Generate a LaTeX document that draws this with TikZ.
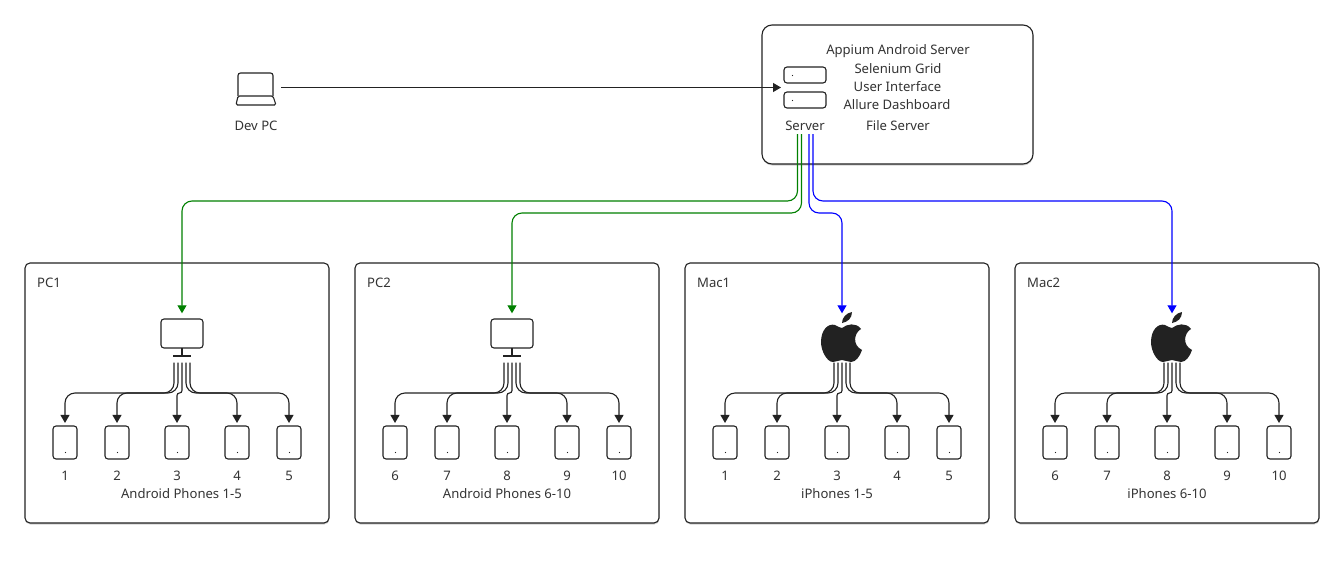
\documentclass[tikz,border=0pt]{standalone}
\usepackage{fontspec}
\setmainfont{Noto Sans}
\usetikzlibrary{arrows.meta,shadows}
\definecolor{ink}{HTML}{222222}
\definecolor{txt}{HTML}{333333}
\definecolor{gr}{HTML}{008000}
\definecolor{bl}{HTML}{0000FF}
\tikzset{
  x=1pt,y=-1pt,
  lbl/.style={font=\fontsize{13.1}{15}\selectfont,text=txt,inner sep=0pt,yshift=-1pt},
  panel/.style={draw=ink,line width=1.1pt,rounded corners=5pt,fill=white,
     drop shadow={shadow xshift=0.3pt,shadow yshift=-1.5pt,opacity=.18,fill=black}},
  panelA/.style={panel,minimum width=304pt,minimum height=260pt,inner sep=0pt},
  phonebox/.style={draw=ink,line width=1.1pt,rounded corners=3pt,minimum width=24pt,minimum height=33pt,inner sep=0pt},
  rackbox/.style={draw=ink,line width=1.1pt,rounded corners=3pt,minimum width=42pt,minimum height=16pt,inner sep=0pt},
  ghost/.style={inner sep=0pt,outer sep=0pt},
  link/.style={line width=1.1pt,rounded corners=10pt,-{Triangle[length=8pt,width=9pt]}},
  inklink/.style={link,draw=ink},
}
\newcommand{\hostpc}{%
  \draw[ink,line width=1.1pt,rounded corners=3pt] (161,319) rectangle (203,348);
  \draw[ink,line width=1.1pt] (182,348) -- (182,356) (173,356) -- (191,356);
}
\newcommand{\hostmac}{%
  \fill[ink] (842,328) .. controls (847,324) and (856,322) .. (861,329)
     .. controls (854,333) and (852,345) .. (862,350)
     .. controls (860,356) and (856,362) .. (851,362)
     .. controls (848,362) and (845,360) .. (842,360)
     .. controls (839,360) and (836,362) .. (833,362)
     .. controls (827,362) and (821,351) .. (821,342)
     .. controls (821,330) and (828,323) .. (835,325)
     .. controls (837,326) and (840,328) .. (842,328) -- cycle;
  \fill[ink] (842,323) .. controls (842,318) and (846,313) .. (852,312)
     .. controls (852,318) and (848,322) .. (842,323) -- cycle;
}
% id, x offset, title, first number, caption, caption x, host drawing, host x
\newcommand{\rig}[8]{%
  \begin{scope}[xshift=#2pt]
    \node[panelA] (box#1) at (177,393) {};
    \node[lbl,anchor=west] (title#1) at (37,282) {#3};
    \node[ghost,minimum width=42pt,minimum height=44pt] (host#1) at (182,341) {};
    \coordinate (bar#1) at (0,393);
    \foreach \x [count=\c] in {65,117,177,237,289} {
      \pgfmathtruncatemacro{\num}{#4+\c-1}
      \pgfmathsetmacro{\sx}{170+4*\c}
      \node[phonebox] (ph#1\c) at (\x,442.5) {};
      \fill[ink] (\x+0.5,452.5) circle (0.55pt);
      \node[lbl] (num#1\c) at (\x,475) {\num};
      \coordinate (s#1\c) at (\sx,362.5);
    }
    \node[lbl] (cap#1) at (#6,493) {#5};
  \end{scope}
  \begin{scope}[xshift=#8pt]
    #7
  \end{scope}
  \foreach \c in {1,2,4,5} {
    \draw[inklink,shorten >=2.5pt] (s#1\c) |- (bar#1 -| ph#1\c.north) -- (ph#1\c.north);
  }
  \draw[inklink,rounded corners=2.5pt,shorten >=2.5pt] (s#13) |- (bar#1 -| ph#13.north) -- (ph#13.north);
}
\begin{document}
\begin{tikzpicture}
\useasboundingbox (0,0) rectangle (1344,568);
\fill[white] (0,0) rectangle (1344,568);

% server
\node[panel,minimum width=271pt,minimum height=139pt,inner sep=0pt,rounded corners=10pt] (server) at (897.5,94.5) {};
\node[ghost,minimum width=42pt,minimum height=41pt] (srv) at (805,88) {};
\node[rackbox] (rack1) at (805,75) {};
\node[rackbox] (rack2) at (805,100) {};
\fill[ink] (792.5,75.5) circle (0.55pt) (792.5,100.5) circle (0.55pt);
\node[lbl] (srvlabel) at (805,125) {Server};
\node[lbl] (t1) at (898,50) {Appium Android Server};
\node[lbl] (t2) at (898,68) {Selenium Grid};
\node[lbl] (t3) at (897.5,86) {User Interface};
\node[lbl] (t4) at (897,104) {Allure Dashboard};
\node[lbl] (t5) at (898,125) {File Server};

% dev pc
\node[ghost,minimum width=50pt,minimum height=30pt] (dev) at (256,87.5) {};
\draw[ink,line width=1.1pt,rounded corners=2.5pt] (238,96) -- (238,73) -- (273,73) -- (273,96);
\draw[ink,line width=1.1pt,rounded corners=1.5pt] (238,96) -- (273,96) -- (276,105) -- (236,105) -- cycle;
\node[lbl] (devlabel) at (256,125) {Dev PC};
\draw[inklink,shorten >=3pt] (dev.east) -- (dev.east -| srv.west);

% groups
\rig{A}{0}{PC1}{1}{Android Phones 1-5}{181.5}{\hostpc}{0}
\rig{B}{330}{PC2}{6}{Android Phones 6-10}{177}{\hostpc}{330}
\rig{C}{660}{Mac1}{1}{iPhones 1-5}{177}{\hostmac}{0}
\rig{D}{990}{Mac2}{6}{iPhones 6-10}{177}{\hostmac}{330}

% server links
\coordinate (g1) at (797.5,134);
\coordinate (g2) at (801.5,134);
\coordinate (b1) at (809,134);
\coordinate (b2) at (813,134);
\coordinate (high) at (0,201);
\coordinate (low) at (0,213);
\draw[link,draw=gr,shorten >=5.7pt] (g1) |- (high -| hostA.north) -- (hostA.north);
\draw[link,draw=gr,shorten >=5.7pt] (g2) |- (low -| hostB.north) -- (hostB.north);
\draw[link,draw=bl,shorten >=5.7pt] (b1) |- (low -| hostC.north) -- (hostC.north);
\draw[link,draw=bl,shorten >=5.7pt] (b2) |- (high -| hostD.north) -- (hostD.north);
\end{tikzpicture}
\end{document}
